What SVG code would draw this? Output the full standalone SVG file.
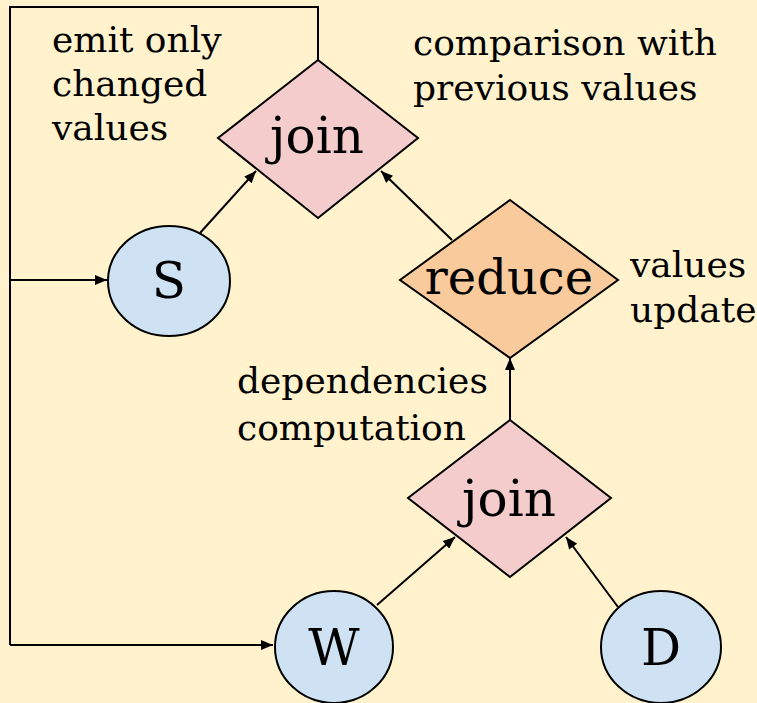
<svg xmlns="http://www.w3.org/2000/svg" width="757" height="703" viewBox="0 0 757 703">
  <defs>
    <marker id="arrow" viewBox="0 0 12 10" refX="12" refY="5" markerWidth="13" markerHeight="10" markerUnits="userSpaceOnUse" orient="auto">
      <path d="M0,0 L12,5 L0,10 Z" fill="#000"/>
    </marker>
  </defs>
  <style>
    .bg { fill: #fff2cc; }
    .join { fill: #f4cccc; stroke: #000; stroke-width: 2; }
    .reduce { fill: #f9cb9c; stroke: #000; stroke-width: 2; }
    .src { fill: #cfe2f3; stroke: #000; stroke-width: 2; }
    .edge { fill: none; stroke: #000; stroke-width: 2; }
    .arrow { marker-end: url(#arrow); }
    .big { font-family: "DejaVu Serif", "Liberation Serif", serif; font-size: 50px; fill: #000; text-anchor: middle; }
    .big.fit { font-size: 48px; }
    .note { font-family: "DejaVu Serif", "Liberation Serif", serif; font-size: 36px; fill: #000; }
  </style>

  <rect class="bg" x="0" y="0" width="757" height="703"/>

  <!-- connectors -->
  <g id="connectors">
    <polyline class="edge" points="318,60 318,7 10,7 10,645"/>
    <line class="edge arrow" x1="10" y1="280" x2="107" y2="280"/>
    <line class="edge arrow" x1="10" y1="645" x2="273" y2="645"/>
    <line class="edge arrow" x1="200" y1="233" x2="256" y2="171"/>
    <line class="edge arrow" x1="452" y1="240" x2="381" y2="171"/>
    <line class="edge arrow" x1="510" y1="420" x2="510" y2="358"/>
    <line class="edge arrow" x1="377" y1="605" x2="455" y2="537"/>
    <line class="edge arrow" x1="618" y1="607" x2="566" y2="537"/>
  </g>

  <!-- nodes -->
  <g id="join-top">
    <polygon class="join" points="318,60 418,138 318,218 218,138"/>
    <text class="big" x="317" y="153">join</text>
  </g>
  <g id="reduce">
    <polygon class="reduce" points="510,200 618,280 510,358 400,280"/>
    <text class="big fit" x="509" y="294">reduce</text>
  </g>
  <g id="join-bottom">
    <polygon class="join" points="510,420 611,498 510,577 408,498"/>
    <text class="big" x="509" y="516">join</text>
  </g>
  <g id="S">
    <ellipse class="src" cx="169" cy="281" rx="61" ry="55"/>
    <text class="big" x="169" y="298">S</text>
  </g>
  <g id="W">
    <ellipse class="src" cx="334" cy="647" rx="59" ry="56"/>
    <text class="big" x="334" y="665">W</text>
  </g>
  <g id="D">
    <ellipse class="src" cx="661" cy="647" rx="60" ry="56"/>
    <text class="big" x="661" y="665">D</text>
  </g>

  <!-- annotations -->
  <g id="labels">
    <text class="note" x="52" y="52">emit only</text>
    <text class="note" x="52" y="96">changed</text>
    <text class="note" x="52" y="140">values</text>
    <text class="note" x="413" y="55">comparison with</text>
    <text class="note" x="413" y="100">previous values</text>
    <text class="note" x="630" y="277">values</text>
    <text class="note" x="630" y="322">update</text>
    <text class="note" x="237" y="393">dependencies</text>
    <text class="note" x="237" y="440">computation</text>
  </g>
</svg>
